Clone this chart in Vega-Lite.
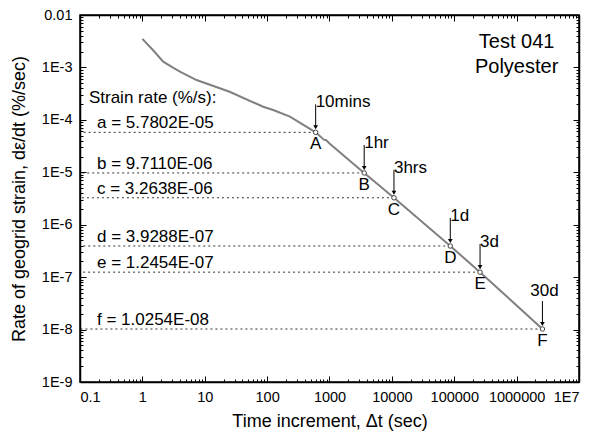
{
  "$schema": "https://vega.github.io/schema/vega-lite/v6.json",
  "width": 499,
  "height": 367,
  "autosize": {"type": "none"},
  "padding": {"left": 80, "top": 15, "right": 13, "bottom": 55},
  "background": "white",
  "config": {
    "font": "Liberation Sans",
    "view": {"stroke": "black", "strokeWidth": 1.5},
    "axis": {"grid": false, "domain": false, "tickColor": "black", "tickWidth": 1, "zindex": 1}
  },
  "datasets": {
    "curve": [
      {"t": 1, "r": 0.0035},
      {"t": 1.5, "r": 0.0021},
      {"t": 2.16, "r": 0.00129},
      {"t": 3, "r": 0.00101},
      {"t": 4, "r": 0.00083},
      {"t": 7.4, "r": 0.000575},
      {"t": 25, "r": 0.000343},
      {"t": 86.5, "r": 0.000178},
      {"t": 125, "r": 0.000154},
      {"t": 232, "r": 0.000115},
      {"t": 600, "r": 5.7802e-5},
      {"t": 820, "r": 4.15e-5},
      {"t": 880, "r": 4.12e-5},
      {"t": 1000, "r": 3.55e-5},
      {"t": 3600, "r": 9.711e-6},
      {"t": 10800, "r": 3.2638e-6},
      {"t": 86400, "r": 3.9288e-7},
      {"t": 259200, "r": 1.2454e-7},
      {"t": 2592000, "r": 1.0254e-8}
    ],
    "pts": [
      {"id": "A", "t": 600, "r": 5.7802e-5, "time": "10mins", "rate": "a = 5.7802E-05"},
      {"id": "B", "t": 3600, "r": 9.711e-6, "time": "1hr", "rate": "b = 9.7110E-06"},
      {"id": "C", "t": 10800, "r": 3.2638e-6, "time": "3hrs", "rate": "c = 3.2638E-06"},
      {"id": "D", "t": 86400, "r": 3.9288e-7, "time": "1d", "rate": "d = 3.9288E-07"},
      {"id": "E", "t": 259200, "r": 1.2454e-7, "time": "3d", "rate": "e = 1.2454E-07"},
      {"id": "F", "t": 2592000, "r": 1.0254e-8, "time": "30d", "rate": "f = 1.0254E-08"}
    ]
  },
  "layer": [
    {
      "data": {"name": "curve"},
      "mark": {"type": "line", "color": "#808080", "strokeWidth": 2},
      "encoding": {
        "x": {"field": "t", "type": "quantitative",
          "scale": {"type": "log", "domain": [0.1, 10000000], "nice": false},
          "axis": {"orient": "bottom", "values": [0.1, 1, 10, 100, 1000, 10000, 100000, 1000000, 10000000],
            "tickSize": 6, "tickOpacity": 0, "zindex": 1,
            "labelFont": "Liberation Sans", "labelFontSize": 14.5, "labelColor": "black",
            "title": "Time increment, Δt (sec)", "titlePadding": 9, "titleFont": "Liberation Sans", "titleFontSize": 18, "titleFontWeight": "normal", "titleColor": "black",
            "labelExpr": "datum.value < 1 ? '0.1' : (datum.value > 5000000 ? '1E7' : format(datum.value, 'd'))"}},
        "y": {"field": "r", "type": "quantitative",
          "scale": {"type": "log", "domain": [1e-9, 0.01], "nice": false},
          "axis": {"orient": "left", "values": [1e-9, 1e-8, 1e-7, 1e-6, 1e-5, 1e-4, 1e-3, 0.01],
            "tickSize": 6, "tickOpacity": 0, "zindex": 1,
            "labelFont": "Liberation Sans", "labelFontSize": 14.5, "labelColor": "black",
            "title": "Rate of geogrid strain, dε/dt (%/sec)", "titlePadding": 13, "titleFont": "Liberation Sans", "titleFontSize": 18, "titleFontWeight": "normal", "titleColor": "black",
            "labelExpr": "datum.value > 0.005 ? '0.01' : '1E' + round(log(datum.value) / LN10)"}}
      }
    },
    {
      "data": {"name": "pts"},
      "mark": {"type": "rule", "color": "#333333", "strokeWidth": 1, "strokeDash": [2, 3]},
      "encoding": {
        "x": {"field": "t", "type": "quantitative",
          "scale": {"type": "log", "domain": [0.1, 10000000], "nice": false},
          "axis": {"orient": "bottom", "labels": false, "title": null, "zindex": 1, "domain": true, "domainColor": "black", "domainWidth": 1.5,
            "tickSize": {"condition": {"test": "abs(log(datum.value)/LN10 - round(log(datum.value)/LN10)) < 0.001", "value": -6}, "value": -3},
            "values": [0.1,0.2,0.3,0.4,0.5,0.6,0.7,0.8,0.9,1,2,3,4,5,6,7,8,9,10,20,30,40,50,60,70,80,90,100,200,300,400,500,600,700,800,900,1000,2000,3000,4000,5000,6000,7000,8000,9000,10000,20000,30000,40000,50000,60000,70000,80000,90000,100000,200000,300000,400000,500000,600000,700000,800000,900000,1000000,2000000,3000000,4000000,5000000,6000000,7000000,8000000,9000000,10000000]}},
        "x2": {"datum": 0.1},
        "y": {"field": "r", "type": "quantitative",
          "scale": {"type": "log", "domain": [1e-9, 0.01], "nice": false},
          "axis": {"orient": "left", "labels": false, "title": null, "zindex": 1, "domain": true, "domainColor": "black", "domainWidth": 1.5,
            "tickSize": {"condition": {"test": "abs(log(datum.value)/LN10 - round(log(datum.value)/LN10)) < 0.001", "value": -6}, "value": -3},
            "values": [1e-9,2e-9,3e-9,4e-9,5e-9,6e-9,7e-9,8e-9,9e-9,1e-8,2e-8,3e-8,4e-8,5e-8,6e-8,7e-8,8e-8,9e-8,1e-7,2e-7,3e-7,4e-7,5e-7,6e-7,7e-7,8e-7,9e-7,1e-6,2e-6,3e-6,4e-6,5e-6,6e-6,7e-6,8e-6,9e-6,1e-5,2e-5,3e-5,4e-5,5e-5,6e-5,7e-5,8e-5,9e-5,1e-4,2e-4,3e-4,4e-4,5e-4,6e-4,7e-4,8e-4,9e-4,1e-3,2e-3,3e-3,4e-3,5e-3,6e-3,7e-3,8e-3,9e-3,0.01]}}
      }
    },
    {
      "data": {"name": "pts"},
      "mark": {"type": "rule", "color": "black", "strokeWidth": 1, "yOffset": -5, "y2Offset": -28},
      "encoding": {
        "x": {"field": "t", "type": "quantitative",
          "scale": {"type": "log", "domain": [0.1, 10000000], "nice": false},
          "axis": {"orient": "top", "labels": false, "title": null, "zindex": 1, "domain": true, "domainColor": "black", "domainWidth": 1.5,
            "tickSize": {"condition": {"test": "abs(log(datum.value)/LN10 - round(log(datum.value)/LN10)) < 0.001", "value": -6}, "value": -3},
            "values": [0.1,0.2,0.3,0.4,0.5,0.6,0.7,0.8,0.9,1,2,3,4,5,6,7,8,9,10,20,30,40,50,60,70,80,90,100,200,300,400,500,600,700,800,900,1000,2000,3000,4000,5000,6000,7000,8000,9000,10000,20000,30000,40000,50000,60000,70000,80000,90000,100000,200000,300000,400000,500000,600000,700000,800000,900000,1000000,2000000,3000000,4000000,5000000,6000000,7000000,8000000,9000000,10000000]}},
        "y": {"field": "r", "type": "quantitative",
          "scale": {"type": "log", "domain": [1e-9, 0.01], "nice": false},
          "axis": {"orient": "right", "labels": false, "title": null, "zindex": 1, "domain": true, "domainColor": "black", "domainWidth": 1.5,
            "tickSize": {"condition": {"test": "abs(log(datum.value)/LN10 - round(log(datum.value)/LN10)) < 0.001", "value": -6}, "value": -3},
            "values": [1e-9,2e-9,3e-9,4e-9,5e-9,6e-9,7e-9,8e-9,9e-9,1e-8,2e-8,3e-8,4e-8,5e-8,6e-8,7e-8,8e-8,9e-8,1e-7,2e-7,3e-7,4e-7,5e-7,6e-7,7e-7,8e-7,9e-7,1e-6,2e-6,3e-6,4e-6,5e-6,6e-6,7e-6,8e-6,9e-6,1e-5,2e-5,3e-5,4e-5,5e-5,6e-5,7e-5,8e-5,9e-5,1e-4,2e-4,3e-4,4e-4,5e-4,6e-4,7e-4,8e-4,9e-4,1e-3,2e-3,3e-3,4e-3,5e-3,6e-3,7e-3,8e-3,9e-3,0.01]}},
        "y2": {"field": "r"}
      }
    },
    {
      "data": {"name": "pts"},
      "mark": {"type": "point", "shape": "triangle-down", "filled": true, "color": "black", "size": 22, "yOffset": -5, "opacity": 1},
      "encoding": {
        "x": {"field": "t", "type": "quantitative", "axis": null},
        "y": {"field": "r", "type": "quantitative", "axis": null}
      }
    },
    {
      "data": {"name": "pts"},
      "mark": {"type": "point", "shape": "circle", "filled": true, "fill": "white", "stroke": "#444444", "strokeWidth": 1, "size": 20, "opacity": 1},
      "encoding": {
        "x": {"field": "t", "type": "quantitative", "axis": null},
        "y": {"field": "r", "type": "quantitative", "axis": null}
      }
    },
    {
      "data": {"name": "pts"},
      "mark": {"type": "text", "font": "Liberation Sans", "fontSize": 17, "color": "black", "align": "center", "baseline": "top", "dy": 4},
      "encoding": {
        "x": {"field": "t", "type": "quantitative", "axis": null},
        "y": {"field": "r", "type": "quantitative", "axis": null},
        "text": {"field": "id"}
      }
    },
    {
      "data": {"name": "pts"},
      "transform": [{"filter": "datum.id != 'F'"}],
      "mark": {"type": "text", "font": "Liberation Sans", "fontSize": 17, "color": "black", "align": "left", "baseline": "alphabetic", "dx": 0, "dy": -25},
      "encoding": {
        "x": {"field": "t", "type": "quantitative", "axis": null},
        "y": {"field": "r", "type": "quantitative", "axis": null},
        "text": {"field": "time"}
      }
    },
    {
      "data": {"name": "pts"},
      "transform": [{"filter": "datum.id == 'F'"}],
      "mark": {"type": "text", "font": "Liberation Sans", "fontSize": 17, "color": "black", "align": "center", "baseline": "alphabetic", "dx": 2, "dy": -33},
      "encoding": {
        "x": {"field": "t", "type": "quantitative", "axis": null},
        "y": {"field": "r", "type": "quantitative", "axis": null},
        "text": {"field": "time"}
      }
    },
    {
      "data": {"name": "pts"},
      "mark": {"type": "text", "font": "Liberation Sans", "fontSize": 17, "color": "black", "align": "left", "baseline": "alphabetic", "dy": -4},
      "encoding": {
        "x": {"datum": 0.187, "type": "quantitative", "axis": null},
        "y": {"field": "r", "type": "quantitative", "axis": null},
        "text": {"field": "rate"}
      }
    },
    {
      "data": {"values": [{"txt": "Strain rate (%/s):"}]},
      "mark": {"type": "text", "font": "Liberation Sans", "fontSize": 17, "color": "black", "align": "left", "baseline": "alphabetic"},
      "encoding": {
        "x": {"datum": 0.139, "type": "quantitative", "axis": null},
        "y": {"datum": 0.00021, "type": "quantitative", "axis": null},
        "text": {"field": "txt"}
      }
    },
    {
      "data": {"values": [{"txt": "Test 041", "ty": 0.00234}, {"txt": "Polyester", "ty": 0.00079}]},
      "mark": {"type": "text", "font": "Liberation Sans", "fontSize": 20, "color": "black", "align": "center", "baseline": "alphabetic"},
      "encoding": {
        "x": {"datum": 1000000, "type": "quantitative", "axis": null},
        "y": {"field": "ty", "type": "quantitative", "axis": null},
        "text": {"field": "txt"}
      }
    }
  ],
  "resolve": {"axis": {"x": "independent", "y": "independent"}}
}
